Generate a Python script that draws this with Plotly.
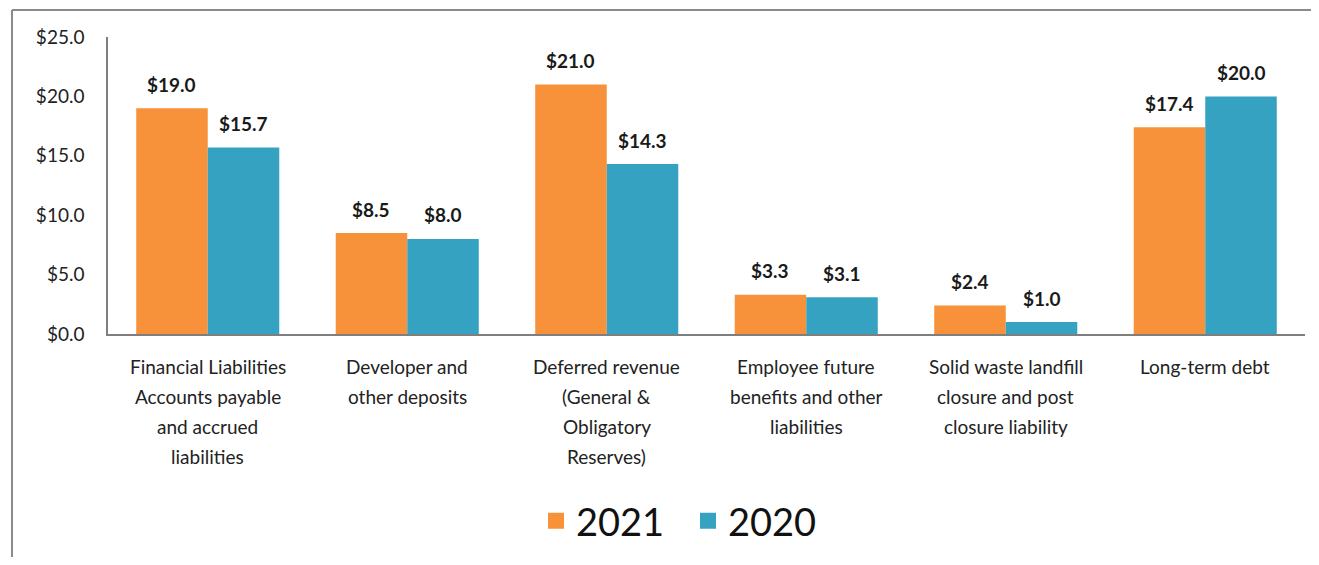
import plotly.graph_objects as go

categories = [
    "Financial Liabilities<br>Accounts payable<br>and accrued<br>liabilities",
    "Developer and<br>other deposits",
    "Deferred revenue<br>(General &<br>Obligatory<br>Reserves)",
    "Employee future<br>benefits and other<br>liabilities",
    "Solid waste landfill<br>closure and post<br>closure liability",
    "Long-term debt",
]
values_2021 = [19.0, 8.5, 21.0, 3.3, 2.4, 17.4]
values_2020 = [15.7, 8.0, 14.3, 3.1, 1.0, 20.0]
series_names = ["2021", "2020"]
y_ticks = [0, 5, 10, 15, 20, 25]
y_tick_labels = ["$0.0", "$5.0", "$10.0", "$15.0", "$20.0", "$25.0"]

ORANGE = "#F7923A"
TEAL = "#36A2C2"
FONT = "Lato, Open Sans, sans-serif"

OFF = 8  # page body margin
W, H = 1319 - 2 * OFF, 565 - 2 * OFF
L, T = 108 - OFF, 37 - OFF
R = W - (1305 - OFF)
B = H - (335 - OFF)
pw, ph = W - L - R, H - T - B

BARGAP = 0.283
half_bar_px = pw / len(categories) * (1 - BARGAP) / 4

fig = go.Figure()
for k, (name, vals, col) in enumerate([(series_names[0], values_2021, ORANGE), (series_names[1], values_2020, TEAL)]):
    fig.add_trace(go.Bar(
        x=list(range(len(categories))), y=vals, name=name, marker_color=col,
        marker_line_width=0, showlegend=False, offsetgroup=str(k),
    ))
    for i, v in enumerate(vals):
        fig.add_annotation(x=i, y=v, xref="x", yref="y", text=f"<b>${v:.1f}</b>", showarrow=False,
                           yanchor="middle", yshift=24, xshift=(-1 if k == 0 else 1) * half_bar_px,
                           font=dict(family=FONT, size=19, color="#1a1a1a"))

# legend entries with larger square swatches
for name, col in [(series_names[0], ORANGE), (series_names[1], TEAL)]:
    fig.add_trace(go.Scatter(x=[None], y=[None], mode="markers", name=name,
                             marker=dict(symbol="square", size=17, color=col)))

# category labels, one annotation per line
for i, c in enumerate(categories):
    for j, line in enumerate(c.split("<br>")):
        fig.add_annotation(x=i, y=0, xref="x", yref="y", text=line, showarrow=False,
                           yanchor="middle", yshift=-32 - 30 * j,
                           font=dict(family=FONT, size=19, color="#222"))


def px_x(px):
    return (px - OFF - L) / pw


def px_y(py):
    return (H - B - (py - OFF)) / ph


# outer frame (partially visible)
fig.add_shape(type="line", xref="paper", yref="paper", x0=px_x(12), x1=px_x(12), y0=px_y(10), y1=px_y(570),
              line=dict(color="#8a8a8a", width=2))
fig.add_shape(type="line", xref="paper", yref="paper", x0=px_x(12), x1=px_x(1320), y0=px_y(10), y1=px_y(10),
              line=dict(color="#8a8a8a", width=2))

fig.update_layout(
    width=W, height=H,
    margin=dict(l=L, r=R, t=T, b=B),
    paper_bgcolor="white", plot_bgcolor="white",
    barmode="group", bargap=BARGAP, bargroupgap=0,
    showlegend=True,
    legend=dict(orientation="h", x=px_x(688), xanchor="center", y=px_y(521), yanchor="middle",
                font=dict(family=FONT, size=38, color="#111"), itemsizing="trace",
                traceorder="normal", itemwidth=30, entrywidth=107, entrywidthmode="pixels"),
    font=dict(family=FONT),
)
fig.update_xaxes(range=[-0.5, len(categories) - 0.5], showticklabels=False, showline=True,
                 linecolor="#7f7f7f", linewidth=1.5, ticks="", showgrid=False, zeroline=False)
fig.update_yaxes(range=[0, 25], tickvals=y_ticks, ticktext=y_tick_labels,
                 showline=True, linecolor="#7f7f7f", linewidth=1.5, showgrid=False, zeroline=False,
                 tickfont=dict(family=FONT, size=19, color="#222"), ticks="", ticklabelstandoff=18)

fig.write_html("out.html")
